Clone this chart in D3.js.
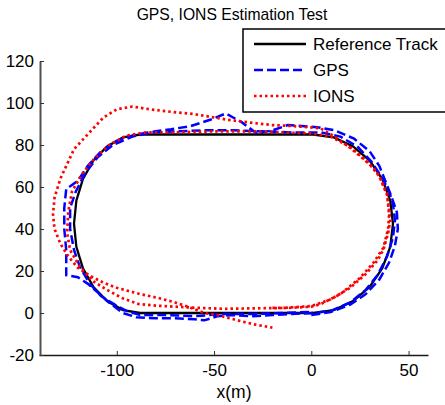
<!DOCTYPE html>
<html>
<head>
<meta charset="utf-8">
<script src="https://cdn.jsdelivr.net/npm/d3@7"></script>
<style>
  body { margin: 0; background: #fff; }
  text { font-family: "Liberation Sans", Arial, sans-serif; }
</style>
</head>
<body>
<script>
// track data (x in m, y in m)
var refTrack = [
  [1, 0], [11.6, 1.4], [21.5, 5.7], [30, 12.4], [36.5, 21.3], [40.6, 31.5], [42, 42.5],
  [40.6, 53.5], [36.5, 63.8], [30, 72.6], [21.5, 79.3], [11.6, 83.6], [1, 85],
  [-88, 85], [-96.8, 83.6], [-105, 79.3], [-112, 72.6], [-117.4, 63.8], [-120.8, 53.5], [-122, 42.5],
  [-120.8, 31.5], [-117.4, 21.3], [-112, 12.4], [-105, 5.7], [-96.8, 1.4], [-88, 0], [1, 0]
];

var gpsTrack = [
  [0, -1], [10, 0.5], [20, 4], [28, 9], [35, 16], [40, 24], [43, 32], [44.5, 40], [44, 48], [41, 56],
  [38, 63], [35, 70], [30, 77], [22, 83], [12, 87], [3, 88.5], [-5, 89], [-12, 89.5], [-20, 87],
  [-28, 85.5], [-36, 91], [-44, 95], [-52, 92], [-62, 89], [-72, 87.5], [-80, 86.5], [-90, 85],
  [-100, 82], [-108, 77], [-115, 70], [-120, 63], [-126, 59], [-127, 50], [-127, 40], [-126, 30],
  [-126, 18], [-120, 17], [-115, 14], [-110, 10], [-104, 5], [-97, 0], [-90, -2], [-80, -2.5],
  [-70, -2.5], [-60, -3], [-55, -3.5], [-48, -1.5], [-40, -1], [-30, -1.5], [-20, -1], [-10, -0.5],
  [0, 0], [10, 1], [20, 5], [28, 11], [34, 18], [39, 27], [42, 36], [43, 44], [42, 52], [40, 58],
  [36, 65], [31, 72], [24, 79], [15, 84], [5, 86], [-10, 86], [-25, 86.5], [-40, 87], [-55, 87],
  [-70, 86.5], [-82, 86], [-92, 84], [-102, 80], [-110, 74], [-116, 67], [-121, 58], [-124, 50],
  [-124, 40], [-122, 30], [-119, 22], [-114, 14], [-108, 8], [-101, 4], [-95, 1], [-88, -1],
  [-75, -1], [-60, -1.5], [-45, -0.5], [-30, -0.5], [-15, 0], [0, 0.5]
];

var ionsTrack = [
  [-20, 2.4], [-10, 2.5], [0, 3], [5, 4.3], [15, 9], [25, 16.7], [32, 24], [37, 31], [39.5, 40],
  [40, 47], [39, 56], [35, 65], [29, 72], [20, 79], [10, 84], [0, 85.5], [-15, 86], [-30, 86.5],
  [-50, 86.5], [-70, 86], [-85, 86], [-95, 84.5], [-104, 80], [-112, 73], [-118, 66], [-123, 58],
  [-125, 48], [-125.5, 38], [-124, 30], [-119, 22], [-112, 15], [-105, 11], [-97, 7], [-89, 4.3],
  [-80, 3.5], [-70, 3], [-60, 2.5], [-45, 2], [-30, 2.2], [-15, 2.4], [0, 3.3],
  [10, 6.5], [20, 12], [28, 18.6], [34, 25], [37, 30], [39.5, 38], [40.6, 44], [39, 56.7], [35, 65],
  [32, 69], [26, 74], [20, 78.6], [12, 84], [4.6, 88], [-9, 89], [-20, 89.5], [-30, 90.5], [-43, 92],
  [-60, 94.7], [-74, 96], [-83, 97], [-92, 98.3], [-100, 97], [-107, 93], [-112, 88], [-117, 83],
  [-122, 78], [-126, 70], [-129, 64], [-132, 55], [-132.8, 47], [-132, 40], [-129, 33], [-125, 27],
  [-120, 21.5], [-113.6, 17.6], [-107, 14.5], [-100, 12], [-88, 9], [-78, 7], [-70, 5], [-62, 2.5],
  [-55, 0], [-48, -1], [-40, -3], [-30, -5.3], [-20, -7]
];

var xTicks = [-100, -50, 0, 50];
var yTicks = [-20, 0, 20, 40, 60, 80, 100, 120];
var legendNames = ["Reference Track", "GPS", "IONS"];

var width = 445, height = 405;

var svg = d3.select("body")
    .append("svg")
    .attr("width", width)
    .attr("height", height);

var xScale = d3.scaleLinear().domain([-140, 60]).range([39, 428]),
    yScale = d3.scaleLinear().domain([-20, 120]).range([355, 61]);

var line = d3.line()
    .x(function (d) { return xScale(d[0]); })
    .y(function (d) { return yScale(d[1]); });

var styles = [
  { color: "#000000", dash: null, w: 2.3 },
  { color: "#0000ff", dash: "9,4", w: 2.5 },
  { color: "#ff0000", dash: "2.5,3", w: 2.7 }
];

svg.append("path").datum(refTrack)
    .attr("d", line).attr("fill", "none")
    .attr("stroke", styles[0].color).attr("stroke-width", styles[0].w);

svg.append("path").datum(gpsTrack)
    .attr("d", line).attr("fill", "none")
    .attr("stroke", styles[1].color).attr("stroke-width", styles[1].w)
    .attr("stroke-dasharray", styles[1].dash);

svg.append("path").datum(ionsTrack)
    .attr("d", line).attr("fill", "none")
    .attr("stroke", styles[2].color).attr("stroke-width", styles[2].w)
    .attr("stroke-dasharray", styles[2].dash);

// axes - plain hyphen for negatives like the original
var fmt = function (d) { return String(d); };

var xAxis = svg.append("g")
    .attr("transform", "translate(0,355)")
    .call(d3.axisBottom(xScale).tickValues(xTicks).tickFormat(fmt)
        .tickSizeInner(-4).tickSizeOuter(0).tickPadding(9));
xAxis.select(".domain").attr("stroke", "#1a1a1a").attr("stroke-width", 1.5);
xAxis.selectAll(".tick line").attr("stroke", "#333");
xAxis.selectAll("text").attr("font-size", 17).attr("fill", "#000")
    .style("font-family", "'Liberation Sans', Arial, sans-serif");

var yAxis = svg.append("g")
    .attr("transform", "translate(40,0)")
    .call(d3.axisLeft(yScale).tickValues(yTicks).tickFormat(fmt)
        .tickSizeInner(-4).tickSizeOuter(0).tickPadding(6));
yAxis.select(".domain").attr("stroke", "#505050").attr("stroke-width", 2);
yAxis.selectAll(".tick line").attr("stroke", "#333");
yAxis.selectAll("text").attr("font-size", 17).attr("fill", "#000")
    .style("font-family", "'Liberation Sans', Arial, sans-serif");

// title and label
svg.append("text")
    .attr("x", 232).attr("y", 20)
    .attr("text-anchor", "middle")
    .attr("font-size", 15.7)
    .text("GPS, IONS Estimation Test");

svg.append("text")
    .attr("x", 234).attr("y", 398)
    .attr("text-anchor", "middle")
    .attr("font-size", 17.5)
    .text("x(m)");

// legend
var legend = svg.append("g");
legend.append("rect")
    .attr("x", 243).attr("y", 29)
    .attr("width", 220).attr("height", 83)
    .attr("fill", "#fff").attr("stroke", "#000").attr("stroke-width", 1.5);

legendNames.forEach(function (name, i) {
    var y = 44 + i * 26;
    var l = legend.append("line")
        .attr("x1", 254).attr("x2", 306)
        .attr("y1", y).attr("y2", y)
        .attr("stroke", styles[i].color)
        .attr("stroke-width", styles[i].w);
    if (styles[i].dash) l.attr("stroke-dasharray", styles[i].dash);
    legend.append("text")
        .attr("x", 313).attr("y", y + 6)
        .attr("font-size", 17)
        .text(name);
});
</script>
</body>
</html>
